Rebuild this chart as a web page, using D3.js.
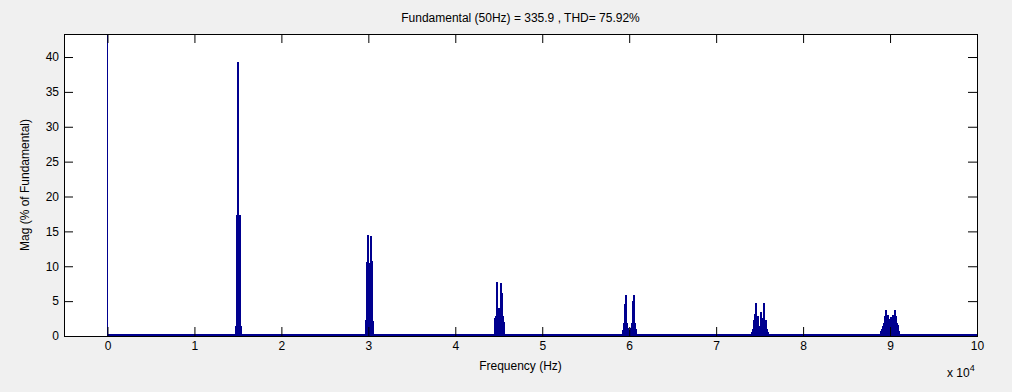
<!DOCTYPE html>
<html>
<head>
<meta charset="utf-8">
<script src="https://cdn.jsdelivr.net/npm/d3@7"></script>
<style>
  body { margin: 0; background: #f0f0f0; }
  svg { display: block; font-family: "Liberation Sans", Arial, sans-serif; }
  .tick text { font-size: 12px; fill: #000; }
</style>
</head>
<body>
<div id="chart"></div>
<script>
var svgWidth = 1012;
var svgHeight = 392;

var margin = { top: 34, right: 35, bottom: 56, left: 64 };
var width = svgWidth - margin.left - margin.right;
var height = svgHeight - margin.top - margin.bottom;

// harmonic spectrum, [frequency Hz, magnitude % of fundamental]
var fundamental = [[50, 100]];

var cluster1 = [[14700,1.3],[14750,1.5],[14800,1.6],[14850,17.4],[14900,1.4],[14950,1.2],
  [15000,39.3],[15050,1.2],[15100,1.4],[15150,17.4],[15200,1.6],[15250,1.5],[15300,1.3]];

var cluster2 = [[29650,2.2],[29700,2.3],[29750,10.6],[29800,0.6],[29850,14.5],[29900,0.6],
  [29950,0.5],[30000,0.6],[30050,0.5],[30100,10.5],[30150,2.3],[30200,14.3],[30250,0.6],
  [30300,0.6],[30350,10.7],[30400,2.3],[30450,2.2]];

var cluster3 = [[44500,2.0],[44550,2.6],[44600,2.8],[44650,2.6],[44700,6.2],[44750,7.7],
  [44800,1.5],[44850,3.0],[44900,4.0],[44950,0.8],[45000,0.3],[45050,0.8],[45100,4.0],
  [45150,3.0],[45200,1.5],[45250,7.6],[45300,6.2],[45350,2.6],[45400,2.8],[45450,2.6],[45500,2.0]];

var cluster4 = [[59250,0.8],[59300,1.0],[59350,1.2],[59400,1.8],[59450,4.6],[59500,2.0],
  [59550,5.9],[59600,5.0],[59650,1.5],[59700,1.9],[59750,0.8],[59800,1.2],[59850,0.5],
  [59900,0.9],[59950,0.4],[60000,0.6],[60050,0.4],[60100,0.9],[60150,0.5],[60200,1.2],
  [60250,0.8],[60300,1.9],[60350,1.5],[60400,5.0],[60450,5.9],[60500,2.0],[60550,4.6],
  [60600,1.8],[60650,1.2],[60700,1.0],[60750,0.8]];

var cluster5 = [[74100,0.6],[74150,0.8],[74200,1.0],[74250,1.5],[74300,2.3],[74350,1.2],
  [74400,2.0],[74450,3.2],[74500,4.7],[74550,1.5],[74600,2.3],[74650,1.0],[74700,2.8],
  [74750,1.2],[74800,2.0],[74850,0.8],[74900,1.5],[74950,0.8],[75000,1.0],[75050,3.5],
  [75100,1.0],[75150,2.0],[75200,1.2],[75250,2.6],[75300,1.0],[75350,2.3],[75400,1.5],
  [75450,3.0],[75500,4.7],[75550,2.0],[75600,1.2],[75650,2.3],[75700,1.5],[75750,1.0],
  [75800,0.8],[75850,0.6]];

var cluster6 = [[88900,0.5],[88950,0.7],[89000,0.9],[89050,1.0],[89100,1.2],[89150,1.4],
  [89200,1.6],[89250,1.2],[89300,1.8],[89350,2.0],[89400,2.8],[89450,3.7],[89500,1.8],
  [89550,2.0],[89600,1.9],[89650,2.2],[89700,3.0],[89750,2.1],[89800,2.0],[89850,2.2],
  [89900,1.9],[89950,2.4],[90000,2.7],[90050,2.4],[90100,1.9],[90150,2.2],[90200,2.0],
  [90250,2.1],[90300,3.0],[90350,2.2],[90400,1.9],[90450,2.0],[90500,1.8],[90550,3.7],
  [90600,2.8],[90650,2.0],[90700,1.8],[90750,1.2],[90800,1.6],[90850,1.4],[90900,1.0],
  [90950,0.7]];

var xTicks = [0, 1, 2, 3, 4, 5, 6, 7, 8, 9, 10];   // x 10^4 Hz
var yTicks = [0, 5, 10, 15, 20, 25, 30, 35, 40];

var titleText = "Fundamental (50Hz) = 335.9 , THD= 75.92%";
var xLabel = "Frequency (Hz)";
var yLabel = "Mag (% of Fundamental)";

var data = fundamental.concat(cluster1, cluster2, cluster3, cluster4, cluster5, cluster6);

var svg = d3.select("#chart")
  .append("svg")
  .attr("width", svgWidth)
  .attr("height", svgHeight);

var chartGroup = svg.append("g")
  .attr("transform", `translate(${margin.left}, ${margin.top})`);

var xScale = d3.scaleLinear()
  .domain([-5000, 100000])
  .range([0, width]);

var yScale = d3.scaleLinear()
  .domain([0, 43.3])
  .range([height, 0]);

chartGroup.append("rect")
  .attr("width", width)
  .attr("height", height)
  .attr("fill", "#fff");

chartGroup.append("clipPath")
  .attr("id", "plotClip")
  .append("rect")
  .attr("width", width)
  .attr("height", height);

var barColor = "#00008f";
var bars = chartGroup.append("g").attr("clip-path", "url(#plotClip)");

// baseline of the bar plot
bars.append("line")
  .attr("x1", xScale(0))
  .attr("x2", xScale(100000))
  .attr("y1", yScale(0) - 1)
  .attr("y2", yScale(0) - 1)
  .attr("stroke", barColor)
  .attr("stroke-width", 2);

// bars are narrower than a pixel, so draw them at a minimum screen width
bars.selectAll("rect.bar")
  .data(data)
  .enter()
  .append("rect")
  .attr("class", "bar")
  .attr("x", d => Math.floor(xScale(d[0])))
  .attr("width", d => d[1] > 50 ? 1 : 2)
  .attr("y", d => yScale(d[1]))
  .attr("height", d => yScale(0) - yScale(d[1]))
  .attr("fill", barColor)
  .attr("shape-rendering", "crispEdges");

// axes, ticks inward on all four sides
var tickLen = 9;
var bottomAxis = d3.axisBottom(xScale).tickValues(xTicks.map(t => t * 1e4))
  .tickFormat(d => d / 1e4).tickSizeInner(-tickLen).tickSizeOuter(0).tickPadding(5);
var topAxis = d3.axisTop(xScale).tickValues(xTicks.map(t => t * 1e4))
  .tickFormat("").tickSizeInner(-tickLen).tickSizeOuter(0);
var leftAxis = d3.axisLeft(yScale).tickValues(yTicks)
  .tickSizeInner(-tickLen).tickSizeOuter(0).tickPadding(5);
var rightAxis = d3.axisRight(yScale).tickValues(yTicks)
  .tickFormat("").tickSizeInner(-tickLen).tickSizeOuter(0);

chartGroup.append("g")
  .attr("transform", `translate(0, ${height})`)
  .call(bottomAxis);
chartGroup.append("g").call(topAxis);
chartGroup.append("g").call(leftAxis);
chartGroup.append("g")
  .attr("transform", `translate(${width}, 0)`)
  .call(rightAxis);

chartGroup.selectAll(".domain").remove();
chartGroup.selectAll(".tick line").attr("stroke", "#000");

chartGroup.append("rect")
  .attr("x", 0.5)
  .attr("y", 0.5)
  .attr("width", width)
  .attr("height", height)
  .attr("fill", "none")
  .attr("stroke", "#000")
  .attr("stroke-width", 1);

// labels
chartGroup.append("text")
  .attr("x", width / 2)
  .attr("y", -12)
  .attr("text-anchor", "middle")
  .style("font-size", "12px")
  .text(titleText);

chartGroup.append("text")
  .attr("x", width / 2)
  .attr("y", height + 34)
  .attr("text-anchor", "middle")
  .style("font-size", "12px")
  .text(xLabel);

chartGroup.append("text")
  .attr("transform", "rotate(-90)")
  .attr("x", -height / 2)
  .attr("y", -35)
  .attr("text-anchor", "middle")
  .style("font-size", "12px")
  .text(yLabel);

var expo = chartGroup.append("text")
  .attr("x", width - 30)
  .attr("y", height + 41)
  .style("font-size", "12px");
expo.append("tspan").text("x 10");
expo.append("tspan").attr("dy", -6).style("font-size", "9px").text("4");
</script>
</body>
</html>
